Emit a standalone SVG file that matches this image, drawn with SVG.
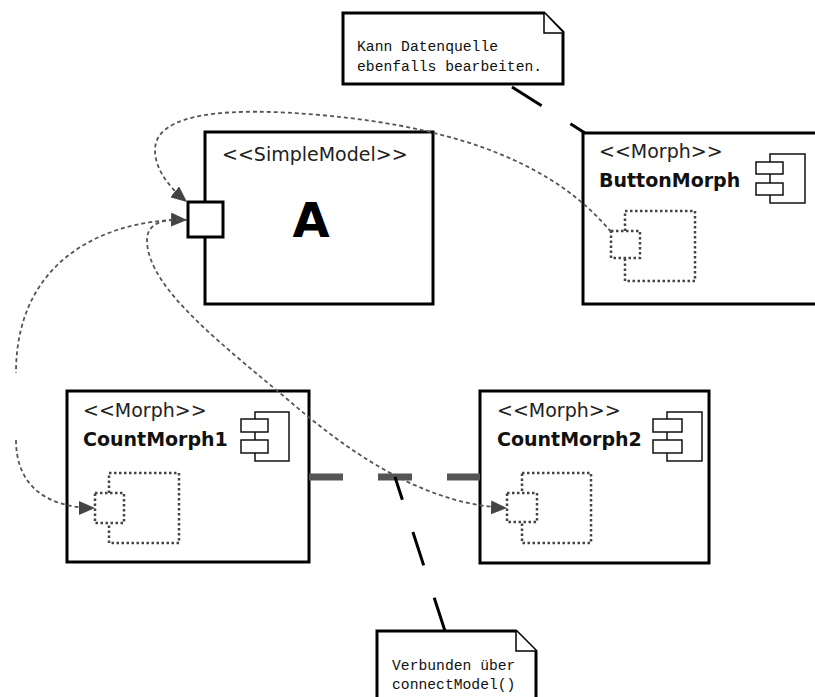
<svg xmlns="http://www.w3.org/2000/svg" width="815" height="697" viewBox="0 0 815 697">
  <defs>
    <style>
      .box { fill: #fff; stroke: #000; stroke-width: 3; }
      .stereo { font-family: "DejaVu Sans", "Liberation Sans", sans-serif; font-size: 19px; fill: #222; }
      .name { font-family: "DejaVu Sans", "Liberation Sans", sans-serif; font-size: 19px; font-weight: bold; fill: #111; }
      .icon { fill: #fff; stroke: #111; stroke-width: 1.5; }
      .inner { fill: #fff; stroke: #444; stroke-width: 2.5; stroke-dasharray: 2.5 2.5; }
      .note { fill: #fff; stroke: #000; stroke-width: 3; }
      .fold { fill: #fff; stroke: #000; stroke-width: 1.5; }
      .notetext { font-family: "Liberation Mono", "DejaVu Sans Mono", monospace; font-size: 14.7px; fill: #111; }
      .anchor { fill: none; stroke: #000; stroke-width: 3; stroke-dasharray: 35 34; }
      .flow { fill: none; stroke: #555; stroke-width: 1.8; stroke-dasharray: 4 3; }
      .link { fill: none; stroke: #555; stroke-width: 7; stroke-dasharray: 34 35; }
    </style>
    <marker id="arrow" viewBox="0 0 16 14" refX="16" refY="7" markerWidth="16" markerHeight="14" markerUnits="userSpaceOnUse" orient="auto-start-reverse">
      <path d="M0,0 L16,7 L0,14 Z" fill="#444"/>
    </marker>
  </defs>

  <!-- model node -->
  <g id="simple-model">
    <rect class="box" x="205" y="132" width="228" height="172"/>
    <text class="stereo" x="222" y="161">&lt;&lt;SimpleModel&gt;&gt;</text>
    <text x="311" y="237" text-anchor="middle" font-family="DejaVu Sans, Liberation Sans, sans-serif" font-size="48" font-weight="bold" fill="#000">A</text>
    <rect class="box" x="188" y="202" width="35" height="35"/>
  </g>

  <!-- button morph node -->
  <g id="button-morph">
    <rect class="box" x="583" y="133" width="240" height="171"/>
    <text class="stereo" x="599" y="158">&lt;&lt;Morph&gt;&gt;</text>
    <text class="name" x="599" y="187">ButtonMorph</text>
    <rect class="icon" x="770" y="154" width="35" height="49"/>
    <rect class="icon" x="756" y="162" width="27" height="12"/>
    <rect class="icon" x="756" y="183" width="27" height="12"/>
    <rect class="inner" x="625" y="211" width="70" height="70"/>
    <rect class="inner" x="611" y="231" width="29" height="27"/>
  </g>

  <!-- first counter node -->
  <g id="count-morph-1">
    <rect class="box" x="67" y="391" width="242" height="171"/>
    <text class="stereo" x="83" y="417">&lt;&lt;Morph&gt;&gt;</text>
    <text class="name" x="83" y="446">CountMorph1</text>
    <rect class="icon" x="255" y="412" width="34" height="49"/>
    <rect class="icon" x="241" y="419" width="27" height="13"/>
    <rect class="icon" x="241" y="440" width="27" height="13"/>
    <rect class="inner" x="109" y="473" width="70" height="70"/>
    <rect class="inner" x="95" y="493" width="29" height="30"/>
  </g>

  <!-- second counter node -->
  <g id="count-morph-2">
    <rect class="box" x="480" y="391" width="229" height="172"/>
    <text class="stereo" x="497" y="417">&lt;&lt;Morph&gt;&gt;</text>
    <text class="name" x="497" y="446">CountMorph2</text>
    <rect class="icon" x="667" y="412" width="35" height="49"/>
    <rect class="icon" x="653" y="419" width="29" height="13"/>
    <rect class="icon" x="653" y="440" width="29" height="13"/>
    <rect class="inner" x="522" y="473" width="69" height="70"/>
    <rect class="inner" x="507" y="493" width="30" height="29"/>
  </g>

  <!-- comment notes -->
  <g id="note-top">
    <path class="note" d="M343,13 L544,13 L563,32 L563,84 L343,84 Z"/>
    <path class="fold" d="M544,13 L544,33 L563,33"/>
    <text class="notetext" x="357" y="51">Kann Datenquelle</text>
    <text class="notetext" x="357" y="71">ebenfalls bearbeiten.</text>
  </g>
  <g id="note-bottom">
    <path class="note" d="M377,631 L516,631 L536,651 L536,705 L377,705 Z"/>
    <path class="fold" d="M516,631 L516,651 L536,651"/>
    <text class="notetext" x="392" y="670">Verbunden über</text>
    <text class="notetext" x="392" y="689">connectModel()</text>
  </g>

  <!-- connectors -->
  <g id="connectors">
    <path class="link" d="M309,477 L480,477"/>
    <path class="flow" marker-end="url(#arrow)" d="M611,232 C560,170 470,128 320,115 C230,107 155,112 155,150 C155,170 170,188 187,202"/>
    <path class="flow" marker-start="url(#arrow)" marker-end="url(#arrow)" d="M187,220 C120,218 16,250 16,373 M16,440 C16,480 40,508 95,508"/>
    <path class="flow" marker-end="url(#arrow)" d="M187,220 C160,218 147,225 147,240 C147,290 230,350 300,410 C360,460 430,505 507,508"/>
    <path class="anchor" d="M512,87 L585,133"/>
    <path class="anchor" d="M445,631 L395,477"/>
  </g>
</svg>
